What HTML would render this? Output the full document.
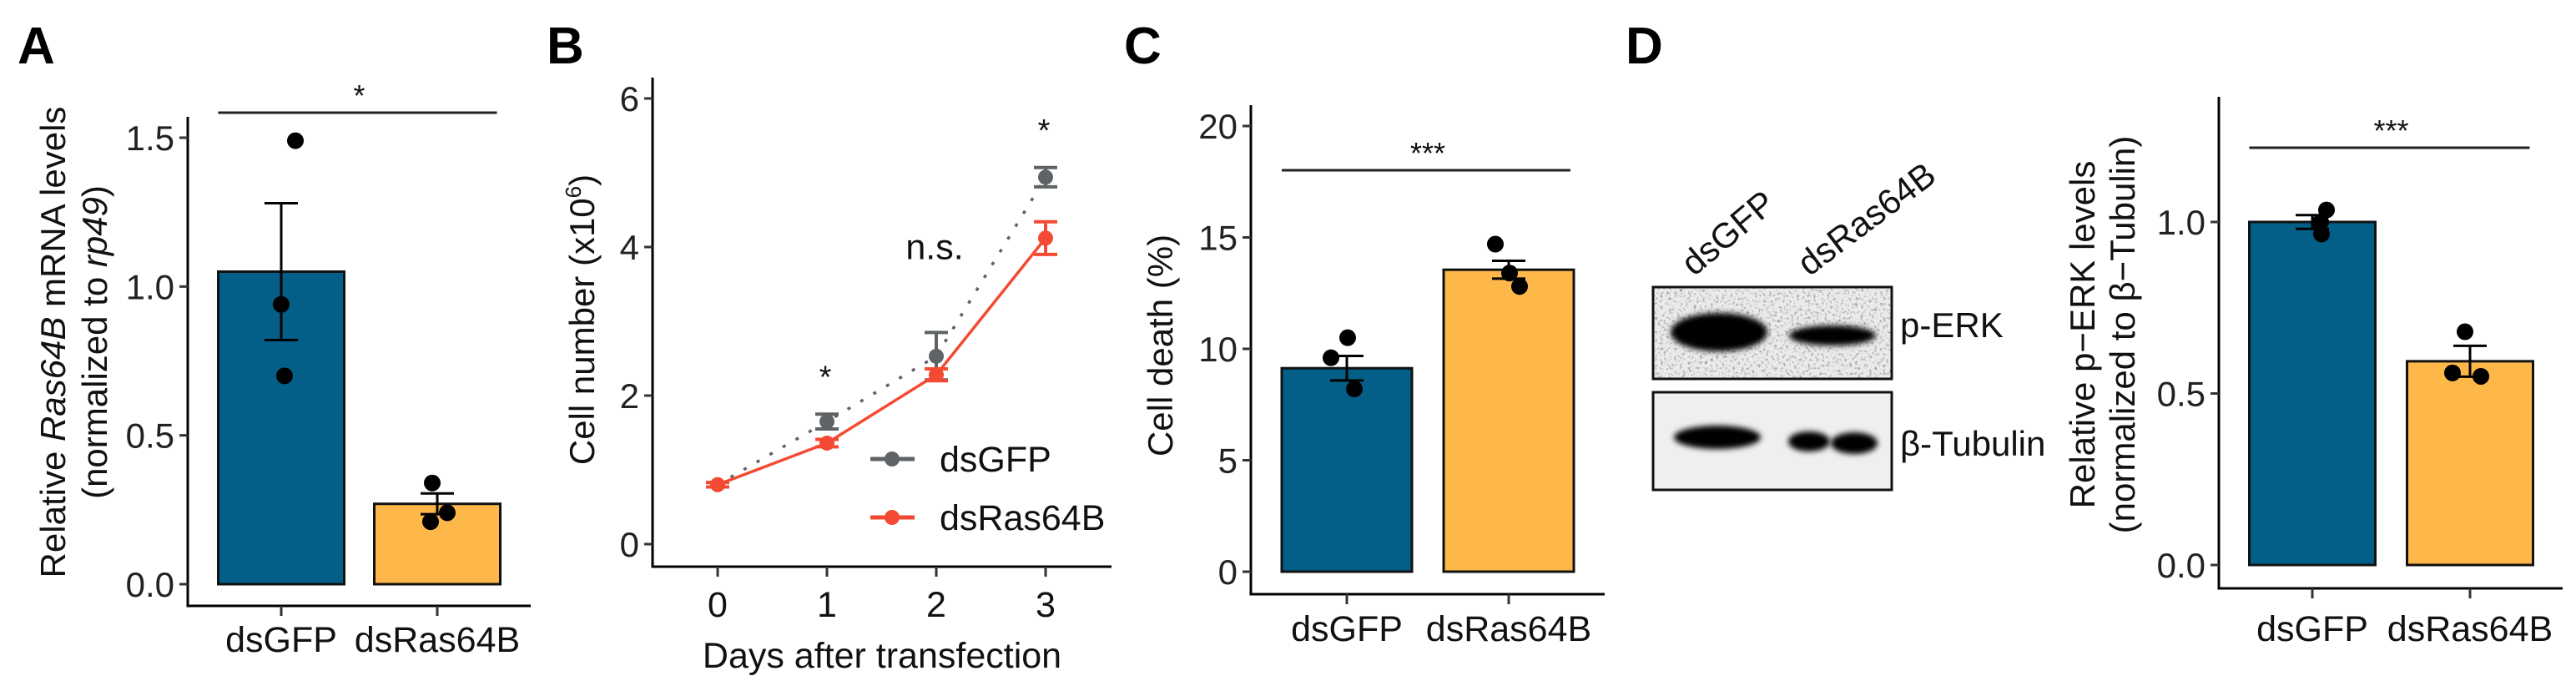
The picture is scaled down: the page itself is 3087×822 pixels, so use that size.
<!DOCTYPE html>
<html><head><meta charset="utf-8">
<style>
html,body{margin:0;padding:0;background:#fff;}
svg{display:block;font-family:"Liberation Sans",Arial,sans-serif;}
</style></head>
<body>
<svg id="fig" width="3087" height="822" viewBox="0 0 3087 822" xmlns="http://www.w3.org/2000/svg">
<defs>
<filter id="blur4" x="-20%" y="-50%" width="140%" height="200%"><feGaussianBlur stdDeviation="3.5"/></filter>
<filter id="noise" x="0" y="0" width="100%" height="100%">
<feTurbulence type="fractalNoise" baseFrequency="0.3" numOctaves="2" seed="3" result="t"/>
<feColorMatrix type="matrix" values="0 0 0 0 0  0 0 0 0 0  0 0 0 0 0  0 0 0 -3 1.45" in="t" result="n"/>
<feComposite in="n" in2="SourceGraphic" operator="in"/>
</filter>
</defs>
<g id="root"></g>
</svg>
<script>
// ---------- Data ----------
const barCats = ["dsGFP", "dsRas64B"];
// Panel A
const aMeans = [1.05, 0.27];
const aSem = [0.23, 0.035];
const aPoints = [[1.49, 0.94, 0.70], [0.34, 0.24, 0.21]];
const aTicks = [0.0, 0.5, 1.0, 1.5];
const aTickLabels = ["0.0", "0.5", "1.0", "1.5"];
// Panel B
const bDays = [0, 1, 2, 3];
const bGFP = [0.80, 1.65, 2.53, 4.94];
const bGFPsem = [0.03, 0.10, 0.32, 0.13];
const bRas = [0.80, 1.36, 2.28, 4.12];
const bRassem = [0.03, 0.05, 0.08, 0.22];
const bTicks = [0, 2, 4, 6];
const bSig = ["", "*", "n.s.", "*"];
// Panel C
const cMeans = [9.13, 13.55];
const cSem = [0.55, 0.4];
const cPoints = [[10.5, 9.6, 8.2], [14.7, 13.4, 12.8]];
const cTicks = [0, 5, 10, 15, 20];
// Panel D
const dMeans = [1.0, 0.594];
const dSem = [0.02, 0.045];
const dPoints = [[1.035, 1.0, 0.965], [0.68, 0.56, 0.55]];
const dTicks = [0.0, 0.5, 1.0];
const dTickLabels = ["0.0", "0.5", "1.0"];

const NS = "http://www.w3.org/2000/svg";
const root = document.getElementById("root");
function mk(tag, attrs, parent, text) {
  const e = document.createElementNS(NS, tag);
  for (const k in attrs) e.setAttribute(k, attrs[k]);
  if (text !== undefined) e.textContent = text;
  (parent || root).appendChild(e);
  return e;
}
const BLUE = "#035f87", ORANGE = "#fdb849", GRAY = "#5f6366", RED = "#f44a33";

function panelLabel(txt, x) {
  const t = mk("text", {x: x, y: 76, "font-size": 62, "font-weight": "bold"}, root, txt);
  
  
}

function barPanel(cfg) {
  const g = mk("g", {});
  
  
  const y = v => cfg.y0 - (v - cfg.vmin) / (cfg.vmax - cfg.vmin) * (cfg.y0 - cfg.y1);
  const ya = mk("line", {x1: cfg.ax, y1: cfg.axTop, x2: cfg.ax, y2: cfg.axBottom, stroke: "#000", "stroke-width": 3}, g);
  
  
  const xa = mk("line", {x1: cfg.ax - 1.5, y1: cfg.axBottom, x2: cfg.axRight, y2: cfg.axBottom, stroke: "#000", "stroke-width": 3}, g);
  
  
  cfg.ticks.forEach((tv, i) => {
    const ty = y(tv);
    const tk = mk("line", {x1: cfg.ax - 10, y1: ty, x2: cfg.ax, y2: ty, stroke: "#333", "stroke-width": 3}, g);
    
    
    const tl = mk("text", {x: cfg.ax - 16, y: ty + 15, "font-size": 42, "text-anchor": "end", fill: "#222"}, g, cfg.tickLabels[i]);
    
    
  });
  const colors = [BLUE, ORANGE];
  barCats.forEach((c, i) => {
    const cx = cfg.cx[i];
    const b = mk("rect", {x: cx - cfg.bw / 2, y: y(cfg.means[i]), width: cfg.bw, height: y(0) - y(cfg.means[i]), fill: colors[i], stroke: "#111", "stroke-width": 3}, g);
    
    
    const hi = y(cfg.means[i] + cfg.sem[i]), lo = y(cfg.means[i] - cfg.sem[i]);
    const eb = mk("path", {d: `M${cx - 20},${hi}H${cx + 20}M${cx},${hi}V${lo}M${cx - 20},${lo}H${cx + 20}`, stroke: "#000", "stroke-width": 3, fill: "none"}, g);
    
    
    cfg.points[i].forEach((p, j) => {
      const dot = mk("circle", {cx: cx + cfg.jit[i][j], cy: y(p), r: 10, fill: "#000"}, g);
      
      
    });
    const xt = mk("line", {x1: cx, y1: cfg.axBottom, x2: cx, y2: cfg.axBottom + 12, stroke: "#333", "stroke-width": 3}, g);
    
    
    const xl = mk("text", {x: cx, y: cfg.labelY, "font-size": 43, "text-anchor": "middle", fill: "#111"}, g, c);
    
    
  });
  const sl = mk("line", {x1: cfg.cx[0] - cfg.bw / 2, y1: cfg.sigY, x2: cfg.cx[1] + cfg.bw / 2 - 4, y2: cfg.sigY, stroke: "#222", "stroke-width": 3}, g);
  
  
  const st = mk("text", {x: (cfg.cx[0] + cfg.cx[1]) / 2, y: cfg.sigY - 8, "font-size": 36, "text-anchor": "middle", fill: "#111"}, g, cfg.sig);
  
  
  return g;
}

// ---------- Panel A ----------
panelLabel("A", 21);
barPanel({name: "panel-a-chart", ax: 225, axTop: 140, axBottom: 726, axRight: 636, vmin: 0, vmax: 1.5, y0: 700, y1: 165,
  ticks: aTicks, tickLabels: aTickLabels, cx: [337, 524], bw: 151, means: aMeans, sem: aSem, points: aPoints,
  jit: [[17, 0, 4], [-6, 12, -8]], labelY: 781, sigY: 135, sig: "*"});
{
  const t = mk("text", {transform: "translate(78,410) rotate(-90)", "font-size": 42, "text-anchor": "middle", fill: "#111"});
  
  
  mk("tspan", {x: 0, y: 0}, t, "Relative ");
  mk("tspan", {"font-style": "italic"}, t, "Ras64B");
  mk("tspan", {}, t, " mRNA levels");
  mk("tspan", {x: 0, y: 50}, t, "(normalized to ");
  mk("tspan", {"font-style": "italic"}, t, "rp49");
  mk("tspan", {}, t, ")");
}

// ---------- Panel B ----------
panelLabel("B", 655);
{
  const g = mk("g", {});
  
  
  const ax = 782, axTop = 93, axBottom = 679, axRight = 1332;
  const xs = d => 860 + d * 131;
  const ys = v => 652 - v / 6 * (652 - 118);
  const ya = mk("line", {x1: ax, y1: axTop, x2: ax, y2: axBottom, stroke: "#000", "stroke-width": 3}, g);
  
  
  const xa = mk("line", {x1: ax - 1.5, y1: axBottom, x2: axRight, y2: axBottom, stroke: "#000", "stroke-width": 3}, g);
  
  
  bTicks.forEach(tv => {
    const tk = mk("line", {x1: ax - 10, y1: ys(tv), x2: ax, y2: ys(tv), stroke: "#333", "stroke-width": 3}, g);
    
    
    const tl = mk("text", {x: ax - 16, y: ys(tv) + 15, "font-size": 42, "text-anchor": "end", fill: "#222"}, g, String(tv));
    
    
  });
  bDays.forEach(d => {
    const tk = mk("line", {x1: xs(d), y1: axBottom, x2: xs(d), y2: axBottom + 12, stroke: "#333", "stroke-width": 3}, g);
    
    
    const tl = mk("text", {x: xs(d), y: 739, "font-size": 43, "text-anchor": "middle", fill: "#111"}, g, String(d));
    
    
  });
  const xt = mk("text", {x: 1057, y: 800, "font-size": 43, "text-anchor": "middle", fill: "#111"}, g, "Days after transfection");
  
  
  const ytt = mk("text", {transform: "translate(712,383) rotate(-90)", "font-size": 42, "text-anchor": "middle", fill: "#111"}, g);
  
  
  mk("tspan", {}, ytt, "Cell number (x10");
  mk("tspan", {"font-size": 26, dy: -16}, ytt, "6");
  mk("tspan", {dy: 16}, ytt, ")");

  function series(vals, sem, color, dash, name) {
    const sg = mk("g", {}, g);
    
    
    const d = vals.map((v, i) => (i ? "L" : "M") + xs(bDays[i]) + "," + ys(v)).join("");
    const ln = mk("path", {d: d, fill: "none", stroke: color, "stroke-width": 3.5, "stroke-dasharray": dash}, sg);
    
    
    vals.forEach((v, i) => {
      const x = xs(bDays[i]), hi = ys(v + sem[i]), lo = ys(v - sem[i]);
      const eb = mk("path", {d: `M${x - 14},${hi}H${x + 14}M${x},${hi}V${lo}M${x - 14},${lo}H${x + 14}`, stroke: color, "stroke-width": 4, fill: "none"}, sg);
      
      
      const pt = mk("circle", {cx: x, cy: ys(v), r: 9, fill: color}, sg);
      
      
    });
  }
  series(bGFP, bGFPsem, GRAY, "4 14", "series-dsgfp");
  series(bRas, bRassem, RED, "none", "series-dsras64b");
  bDays.forEach((d, i) => {
    if (!bSig[i]) return;
    const top = Math.max(bGFP[i] + bGFPsem[i], bRas[i] + bRassem[i]);
    const yy = bSig[i] === "n.s." ? ys(top) - 88 : ys(top) - 56;
    const s = mk("text", {x: xs(d) - 2, y: yy + (bSig[i] === "*" ? 24 : 0), "font-size": bSig[i] === "*" ? 38 : 43, "text-anchor": "middle", fill: "#111"}, g, bSig[i]);
    
    
  });
  const lg = mk("g", {}, g);
  
  
  [["dsGFP", GRAY, 550], ["dsRas64B", RED, 620]].forEach(([lab, col, ly]) => {
    const e = mk("g", {}, lg);
    
    
    mk("line", {x1: 1043, y1: ly, x2: 1096, y2: ly, stroke: col, "stroke-width": 5}, e);
    mk("circle", {cx: 1069, cy: ly, r: 9, fill: col}, e);
    mk("text", {x: 1126, y: ly + 15, "font-size": 43, fill: "#111"}, e, lab);
  });
}

// ---------- Panel C ----------
panelLabel("C", 1347);
barPanel({name: "panel-c-chart", ax: 1499, axTop: 126, axBottom: 712, axRight: 1923, vmin: 0, vmax: 20, y0: 685, y1: 151,
  ticks: cTicks, tickLabels: cTicks.map(String), cx: [1614, 1808], bw: 156, means: cMeans, sem: cSem, points: cPoints,
  jit: [[1, -19, 9], [-16, 1, 13]], labelY: 768, sigY: 204, sig: "***"});
{
  const t = mk("text", {transform: "translate(1405,414) rotate(-90)", "font-size": 42, "text-anchor": "middle", fill: "#111"}, root, "Cell death (%)");
  
  
}

// ---------- Panel D: blot ----------
panelLabel("D", 1948);
{
  const g = mk("g", {});
  
  
  const l1 = mk("text", {transform: "translate(2030,332) rotate(-40)", "font-size": 42, fill: "#111"}, g, "dsGFP");
  
  
  const l2 = mk("text", {transform: "translate(2168,332) rotate(-37)", "font-size": 42, fill: "#111"}, g, "dsRas64B");
  
  
  const b1 = mk("g", {}, g);
  
  
  mk("rect", {x: 1981, y: 344, width: 286, height: 110, fill: "#ebebeb"}, b1);
  mk("rect", {x: 1981, y: 344, width: 286, height: 110, fill: "#777", filter: "url(#noise)", opacity: 0.35}, b1);
  mk("ellipse", {cx: 2060, cy: 398, rx: 58, ry: 23, fill: "#000", filter: "url(#blur4)"}, b1);
  mk("ellipse", {cx: 2196, cy: 402, rx: 52, ry: 12, fill: "#000", filter: "url(#blur4)"}, b1);
  mk("rect", {x: 1981, y: 344, width: 286, height: 110, fill: "none", stroke: "#111", "stroke-width": 3}, b1);
  const b2 = mk("g", {}, g);
  
  
  mk("rect", {x: 1981, y: 470, width: 286, height: 117, fill: "#efefef", stroke: "#111", "stroke-width": 3}, b2);
  mk("ellipse", {cx: 2058, cy: 524, rx: 52, ry: 14, fill: "#000", filter: "url(#blur4)"}, b2);
  mk("ellipse", {cx: 2168, cy: 529, rx: 25, ry: 12, fill: "#000", filter: "url(#blur4)"}, b2);
  mk("ellipse", {cx: 2222, cy: 531, rx: 28, ry: 13, fill: "#000", filter: "url(#blur4)"}, b2);
  const p1 = mk("text", {x: 2277, y: 404, "font-size": 42, fill: "#111"}, g, "p-ERK");
  
  
  const p2 = mk("text", {x: 2277, y: 546, "font-size": 42, fill: "#111"}, g, "β-Tubulin");
  
  
}

// ---------- Panel D: chart ----------
barPanel({name: "panel-d-chart", ax: 2659, axTop: 116, axBottom: 705, axRight: 3071, vmin: 0, vmax: 1.0, y0: 677, y1: 266,
  ticks: dTicks, tickLabels: dTickLabels, cx: [2771, 2960], bw: 151, means: dMeans, sem: dSem, points: dPoints,
  jit: [[17, 10, 11], [-6, -21, 13]], labelY: 768, sigY: 177, sig: "***"});
{
  const t = mk("text", {transform: "translate(2510,401) rotate(-90)", "font-size": 42, "text-anchor": "middle", fill: "#111"});
  
  
  mk("tspan", {x: 0, y: 0}, t, "Relative p−ERK levels");
  mk("tspan", {x: 0, y: 48}, t, "(normalized to β−Tubulin)");
}
</script>
</body></html>
